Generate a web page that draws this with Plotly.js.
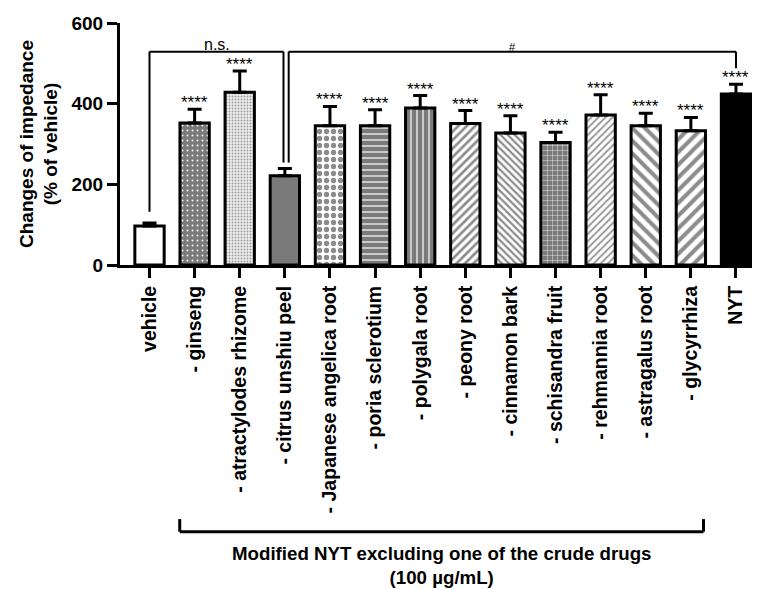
<!DOCTYPE html>
<html>
<head>
<meta charset="utf-8">
<script src="https://cdn.plot.ly/plotly-3.0.1.min.js"></script>
<style>html,body{margin:0;padding:0;background:#fff;}#chart{width:758px;height:589px;}</style>
</head>
<body>
<div id="chart"></div>
<script>
// ---- data ----
var categories = ["vehicle", "- ginseng", "- atractylodes rhizome", "- citrus unshiu peel",
  "- Japanese angelica root", "- poria sclerotium", "- polygala root", "- peony root",
  "- cinnamon bark", "- schisandra fruit", "- rehmannia root", "- astragalus root",
  "- glycyrrhiza", "NYT"];
var means = [97, 352, 428, 221, 345, 345, 389, 351, 327, 304, 372, 345, 333, 424];
var errUp = [7, 34, 53, 18, 48, 40, 31, 32, 43, 25, 50, 31, 33, 24];
var stars = ["", "****", "****", "", "****", "****", "****", "****", "****", "****", "****", "****", "****", "****"];
var yTicks = [0, 200, 400, 600];
var yTitle = "Changes of impedance<br>(% of vehicle)";
var groupLabel = "Modified NYT excluding one of the crude drugs<br>(100 µg/mL)";
// comparisons: from category, to category, bracket height, leg bottoms, label
var comparisons = [
  {from: 0, to: 3, y: 529, legFrom: 132, legTo: 254, label: "n.s.", dFrom: 0, dTo: -0.03},
  {from: 3, to: 13, y: 529, legFrom: 254, legTo: 488, label: "#", dFrom: 0.085, dTo: 0}
];
var groupFrom = 1, groupTo = 12;

// ---- styles (every bar is a pattern so per-bar colours are honoured) ----
var GR = "#7a7a7a";
var patShape = [".", ".", ".", ".", ".", "-", "|", "/", "\\", "+", "/", "\\", "/", "."];
var patBg    = ["#ffffff", GR, "#eeeeee", GR, "#ffffff", GR, GR, "#ffffff", "#ffffff", GR, "#ffffff", "#ffffff", "#ffffff", "#000000"];
var patFg    = ["#ffffff", "#ffffff", "#9a9a9a", GR, "#8c8c8c", "#ffffff", "#ffffff", "#8c8c8c", "#8c8c8c", "#ffffff", "#9a9a9a", "#8c8c8c", "#8c8c8c", "#000000"];
var patSize  = [8, 5, 3, 8, 7, 6, 6, 6, 5, 5, 5, 9, 9, 8];
var patSolid = [0.3, 0.12, 0.3, 0.3, 0.45, 0.2, 0.2, 0.45, 0.45, 0.15, 0.4, 0.45, 0.45, 0.3];

var FONT = "Liberation Sans, Arial, Helvetica, sans-serif";

var trace = {
  type: "bar",
  x: categories,
  y: means,
  width: 0.65,
  marker: {
    color: "#ffffff",
    line: {color: "#000", width: 3},
    pattern: {shape: patShape, fgcolor: patFg, bgcolor: patBg, size: patSize, solidity: patSolid,
      fillmode: "replace", fgopacity: 1}
  },
  error_y: {type: "data", symmetric: false, array: errUp, arrayminus: means.map(function(){return 0;}),
    color: "#000", thickness: 3, width: 7},
  hoverinfo: "x+y"
};

var annotations = [];
var shapes = [];
for (var i = 0; i < categories.length; i++) {
  if (stars[i]) {
    annotations.push({x: i, y: means[i] + errUp[i], xref: "x", yref: "y", text: stars[i],
      showarrow: false, yanchor: "bottom", yshift: -5,
      font: {family: FONT, size: 17, color: "#000"}});
  }
}
comparisons.forEach(function(c) {
  var xa = c.from + c.dFrom, xb = c.to + c.dTo;
  var lw = {color: "#000", width: 2};
  shapes.push({type: "line", xref: "x", yref: "y", x0: xa, x1: xb, y0: c.y, y1: c.y, line: lw});
  shapes.push({type: "line", xref: "x", yref: "y", x0: xa, x1: xa, y0: c.y, y1: c.legFrom, line: lw});
  shapes.push({type: "line", xref: "x", yref: "y", x0: xb, x1: xb, y0: c.y, y1: c.legTo, line: lw});
  annotations.push({x: (xa + xb) / 2, y: c.y, xref: "x", yref: "y", text: c.label, showarrow: false,
    yanchor: "bottom", yshift: -3,
    font: {family: FONT, size: c.label === "#" ? 11 : 16, color: "#000"}});
});
// group bracket below the tick labels
var gx0 = groupFrom - 0.33, gx1 = groupTo + 0.28;
var gl = {color: "#000", width: 3};
shapes.push({type: "line", xref: "x", yref: "paper", x0: gx0, x1: gx1, y0: -1.102, y1: -1.102, line: gl});
shapes.push({type: "line", xref: "x", yref: "paper", x0: gx0, x1: gx0, y0: -1.102, y1: -1.05, line: gl});
shapes.push({type: "line", xref: "x", yref: "paper", x0: gx1, x1: gx1, y0: -1.102, y1: -1.05, line: gl});
annotations.push({x: (gx0 + gx1) / 2, y: -1.24, xref: "x", yref: "paper", text: groupLabel,
  showarrow: false, yanchor: "middle",
  font: {family: FONT, size: 18.7, color: "#000", weight: "bold"}});

var layout = {
  width: 758, height: 589,
  margin: {l: 120, r: 6, t: 23, b: 324, pad: 0},
  paper_bgcolor: "#fff", plot_bgcolor: "#fff",
  font: {family: FONT, color: "#000"},
  showlegend: false,
  xaxis: {
    type: "category", range: [-0.654, 13.355], fixedrange: true,
    showline: true, linecolor: "#000", linewidth: 3,
    ticks: "outside", ticklen: 10, tickwidth: 3, tickcolor: "#000",
    tickangle: -90, tickfont: {family: FONT, size: 19.5, weight: "bold", color: "#000"},
    showgrid: false, zeroline: false
  },
  yaxis: {
    range: [0, 600], tickvals: yTicks, fixedrange: true,
    showline: true, linecolor: "#000", linewidth: 3,
    ticks: "outside", ticklen: 10, tickwidth: 3, tickcolor: "#000",
    tickfont: {family: FONT, size: 19, weight: "bold", color: "#000"},
    showgrid: false, zeroline: false,
    title: {text: yTitle, font: {family: FONT, size: 19, weight: "bold", color: "#000"}, standoff: 9}
  },
  shapes: shapes,
  annotations: annotations,
  bargap: 0.35
};

Plotly.newPlot("chart", [trace], layout, {displayModeBar: false, staticPlot: true});
</script>
</body>
</html>
